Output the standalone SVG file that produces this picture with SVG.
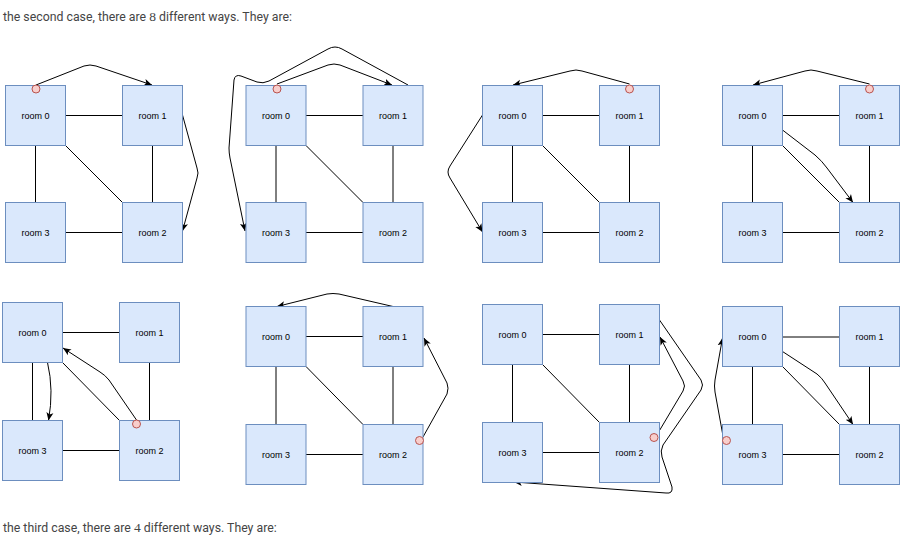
<svg xmlns="http://www.w3.org/2000/svg" width="913" height="544" viewBox="0 0 913 544">
<defs>
<marker id="ah" markerWidth="9" markerHeight="8" refX="8" refY="4" orient="auto" markerUnits="userSpaceOnUse">
<path d="M0,0.5 L8,4 L0,7.5 L2,4 Z" fill="#000"/>
</marker>
<style>
.room rect{fill:#dae8fc;stroke:#6c8ebf;stroke-width:1}
.room text{font-family:"Liberation Sans",Arial,sans-serif;font-size:9px;fill:#000;text-anchor:middle}
.edge{stroke:#000;stroke-width:1;fill:none}
.arrow{stroke:#000;stroke-width:1;fill:none;marker-end:url(#ah)}
.start{fill:#f8cecc;stroke:#b85450;stroke-width:1}
.caption{font-family:Roboto,"Liberation Sans",sans-serif;font-size:12.3px;fill:#444}
.num{font-family:"Liberation Serif",serif;font-size:13.5px}
</style>
</defs>
<rect width="913" height="544" fill="#fff"/>
<text class="caption" x="3" y="21">the second case, there are <tspan class="num">8</tspan> different ways. They are:</text>
<text class="caption" x="3" y="532">the third case, there are <tspan class="num">4</tspan> different ways. They are:</text>

<!-- Panel 1 -->
<g id="p1">
<g class="edges">
<line class="edge" x1="65.5" y1="115.5" x2="122.5" y2="115.5"/>
<line class="edge" x1="65.5" y1="232.5" x2="122.5" y2="232.5"/>
<line class="edge" x1="35.5" y1="145.5" x2="35.5" y2="202.5"/>
<line class="edge" x1="152.5" y1="145.5" x2="152.5" y2="202.5"/>
<line class="edge" x1="65.5" y1="145.5" x2="122.5" y2="202.5"/>
<path class="arrow" d="M36,85 L84,66 Q90,64 96,66 L152,85"/>
<path class="arrow" d="M182.5,115 L197,168 Q199,173 197,178 L182.5,231"/>
</g>
<g id="p1-room0" class="room"><rect x="5.5" y="85.5" width="60" height="60"/><text x="35.5" y="118.5">room 0</text></g>
<g id="p1-room1" class="room"><rect x="122.5" y="85.5" width="60" height="60"/><text x="152.5" y="118.5">room 1</text></g>
<g id="p1-room3" class="room"><rect x="5.5" y="202.5" width="60" height="60"/><text x="35.5" y="235.5">room 3</text></g>
<g id="p1-room2" class="room"><rect x="122.5" y="202.5" width="60" height="60"/><text x="152.5" y="235.5">room 2</text></g>
<circle class="start" cx="36" cy="89" r="4"/>
</g>

<!-- Panel 2 -->
<g id="p2">
<g class="edges">
<line class="edge" x1="306" y1="115.5" x2="363" y2="115.5"/>
<line class="edge" x1="306" y1="232.5" x2="363" y2="232.5"/>
<line class="edge" x1="276" y1="145.5" x2="276" y2="202.5"/>
<line class="edge" x1="393" y1="145.5" x2="393" y2="202.5"/>
<line class="edge" x1="306" y1="145.5" x2="363" y2="202.5"/>
<path class="arrow" d="M277,84 L328,65 Q334,63 340,65 L392,85"/>
<path class="arrow" d="M408,85 L342,49 Q335,45 328,49 L269,81 Q263,84 257,82 L241,76 Q235,74 234,80 L229,148 Q229,153 230,158 L245,231"/>
</g>
<g id="p2-room0" class="room"><rect x="246" y="85.5" width="60" height="60"/><text x="276" y="118.5">room 0</text></g>
<g id="p2-room1" class="room"><rect x="363" y="85.5" width="60" height="60"/><text x="393" y="118.5">room 1</text></g>
<g id="p2-room3" class="room"><rect x="246" y="202.5" width="60" height="60"/><text x="276" y="235.5">room 3</text></g>
<g id="p2-room2" class="room"><rect x="363" y="202.5" width="60" height="60"/><text x="393" y="235.5">room 2</text></g>
<circle class="start" cx="277" cy="89" r="4"/>
</g>

<!-- Panel 3 -->
<g id="p3">
<g class="edges">
<line class="edge" x1="542.5" y1="115.5" x2="599.5" y2="115.5"/>
<line class="edge" x1="542.5" y1="232.5" x2="599.5" y2="232.5"/>
<line class="edge" x1="512.5" y1="145.5" x2="512.5" y2="202.5"/>
<line class="edge" x1="629.5" y1="145.5" x2="629.5" y2="202.5"/>
<line class="edge" x1="542.5" y1="145.5" x2="599.5" y2="202.5"/>
<path class="arrow" d="M629.5,84 L582,71 Q576,69 570,71 L513,85"/>
<path class="arrow" d="M482.5,115 L450,166 Q446,172 450,178 L482.5,232"/>
</g>
<g id="p3-room0" class="room"><rect x="482.5" y="85.5" width="60" height="60"/><text x="512.5" y="118.5">room 0</text></g>
<g id="p3-room1" class="room"><rect x="599.5" y="85.5" width="60" height="60"/><text x="629.5" y="118.5">room 1</text></g>
<g id="p3-room3" class="room"><rect x="482.5" y="202.5" width="60" height="60"/><text x="512.5" y="235.5">room 3</text></g>
<g id="p3-room2" class="room"><rect x="599.5" y="202.5" width="60" height="60"/><text x="629.5" y="235.5">room 2</text></g>
<circle class="start" cx="629.5" cy="89" r="4"/>
</g>

<!-- Panel 4 -->
<g id="p4">
<g class="edges">
<line class="edge" x1="782.5" y1="115.5" x2="839.5" y2="115.5"/>
<line class="edge" x1="782.5" y1="232.5" x2="839.5" y2="232.5"/>
<line class="edge" x1="752.5" y1="145.5" x2="752.5" y2="202.5"/>
<line class="edge" x1="869.5" y1="145.5" x2="869.5" y2="202.5"/>
<line class="edge" x1="782.5" y1="145.5" x2="839.5" y2="202.5"/>
<path class="arrow" d="M869.5,84 L817,71 Q811,69 805,71 L753,85"/>
<path class="arrow" d="M782.5,130 L815,155 Q822,161 827,168 L853,202.5"/>
</g>
<g id="p4-room0" class="room"><rect x="722.5" y="85.5" width="60" height="60"/><text x="752.5" y="118.5">room 0</text></g>
<g id="p4-room1" class="room"><rect x="839.5" y="85.5" width="60" height="60"/><text x="869.5" y="118.5">room 1</text></g>
<g id="p4-room3" class="room"><rect x="722.5" y="202.5" width="60" height="60"/><text x="752.5" y="235.5">room 3</text></g>
<g id="p4-room2" class="room"><rect x="839.5" y="202.5" width="60" height="60"/><text x="869.5" y="235.5">room 2</text></g>
<circle class="start" cx="869.5" cy="89" r="4"/>
</g>

<!-- Panel 5 -->
<g id="p5">
<g class="edges">
<line class="edge" x1="62.5" y1="332.5" x2="119.5" y2="332.5"/>
<line class="edge" x1="62.5" y1="450.5" x2="119.5" y2="450.5"/>
<line class="edge" x1="32.5" y1="362.5" x2="32.5" y2="420.5"/>
<line class="edge" x1="149.5" y1="362.5" x2="149.5" y2="420.5"/>
<line class="edge" x1="62.5" y1="362.5" x2="119.5" y2="420.5"/>
<path class="arrow" d="M136.5,420 L109,380 Q105,375 100,372 L63,348"/>
<path class="arrow" d="M47.5,362.5 Q54,390 48.5,420.5"/>
</g>
<g id="p5-room0" class="room"><rect x="2.5" y="302.5" width="60" height="60"/><text x="32.5" y="335.5">room 0</text></g>
<g id="p5-room1" class="room"><rect x="119.5" y="302.5" width="60" height="60"/><text x="149.5" y="335.5">room 1</text></g>
<g id="p5-room3" class="room"><rect x="2.5" y="420.5" width="60" height="60"/><text x="32.5" y="453.5">room 3</text></g>
<g id="p5-room2" class="room"><rect x="119.5" y="420.5" width="60" height="60"/><text x="149.5" y="453.5">room 2</text></g>
<circle class="start" cx="136.5" cy="424" r="4"/>
</g>

<!-- Panel 6 -->
<g id="p6">
<g class="edges">
<line class="edge" x1="306" y1="336.5" x2="363" y2="336.5"/>
<line class="edge" x1="306" y1="454.5" x2="363" y2="454.5"/>
<line class="edge" x1="276" y1="366.5" x2="276" y2="424.5"/>
<line class="edge" x1="393" y1="366.5" x2="393" y2="424.5"/>
<line class="edge" x1="306" y1="366.5" x2="363" y2="424.5"/>
<path class="arrow" d="M423,437 L447,394 Q449,388 447,383 L424,338"/>
<path class="arrow" d="M393,306.5 L339,294 Q333,293 327,294 L277,306.5"/>
</g>
<g id="p6-room0" class="room"><rect x="246" y="306.5" width="60" height="60"/><text x="276" y="339.5">room 0</text></g>
<g id="p6-room1" class="room"><rect x="363" y="306.5" width="60" height="60"/><text x="393" y="339.5">room 1</text></g>
<g id="p6-room3" class="room"><rect x="246" y="424.5" width="60" height="60"/><text x="276" y="457.5">room 3</text></g>
<g id="p6-room2" class="room"><rect x="363" y="424.5" width="60" height="60"/><text x="393" y="457.5">room 2</text></g>
<circle class="start" cx="419.5" cy="440.5" r="4"/>
</g>

<!-- Panel 7 -->
<g id="p7">
<g class="edges">
<line class="edge" x1="542.5" y1="334.5" x2="599.5" y2="334.5"/>
<line class="edge" x1="542.5" y1="452.5" x2="599.5" y2="452.5"/>
<line class="edge" x1="512.5" y1="364.5" x2="512.5" y2="422.5"/>
<line class="edge" x1="629.5" y1="364.5" x2="629.5" y2="422.5"/>
<line class="edge" x1="542.5" y1="364.5" x2="599.5" y2="422.5"/>
<path class="arrow" d="M658,433 L683,391 Q686,386 683,381 L660,337"/>
<path class="arrow" d="M659.5,320 L701,380 Q704,385 701,390 L663,445 Q660,451 662,457 L672,487 Q673,494 666,493 L514,482"/>
</g>
<g id="p7-room0" class="room"><rect x="482.5" y="304.5" width="60" height="60"/><text x="512.5" y="337.5">room 0</text></g>
<g id="p7-room1" class="room"><rect x="599.5" y="304.5" width="60" height="60"/><text x="629.5" y="337.5">room 1</text></g>
<g id="p7-room3" class="room"><rect x="482.5" y="422.5" width="60" height="60"/><text x="512.5" y="455.5">room 3</text></g>
<g id="p7-room2" class="room"><rect x="599.5" y="422.5" width="60" height="60"/><text x="629.5" y="455.5">room 2</text></g>
<circle class="start" cx="654" cy="437.5" r="4"/>
</g>

<!-- Panel 8 -->
<g id="p8">
<g class="edges">
<line class="edge" x1="782.5" y1="337" x2="839.5" y2="337" stroke="#888"/>
<line class="edge" x1="782.5" y1="454.5" x2="839.5" y2="454.5"/>
<line class="edge" x1="752.5" y1="366.5" x2="752.5" y2="424.5"/>
<line class="edge" x1="869.5" y1="366.5" x2="869.5" y2="424.5"/>
<line class="edge" x1="782.5" y1="366.5" x2="839.5" y2="424.5"/>
<path class="arrow" d="M723,436 L715,392 Q714,386 715,380 L722.5,338"/>
<path class="arrow" d="M782.5,351.5 L817,374 Q822,378 825,383 L853,424.5"/>
</g>
<g id="p8-room0" class="room"><rect x="722.5" y="306.5" width="60" height="60"/><text x="752.5" y="339.5">room 0</text></g>
<g id="p8-room1" class="room"><rect x="839.5" y="306.5" width="60" height="60"/><text x="869.5" y="339.5">room 1</text></g>
<g id="p8-room3" class="room"><rect x="722.5" y="424.5" width="60" height="60"/><text x="752.5" y="457.5">room 3</text></g>
<g id="p8-room2" class="room"><rect x="839.5" y="424.5" width="60" height="60"/><text x="869.5" y="457.5">room 2</text></g>
<circle class="start" cx="726.5" cy="440.5" r="4"/>
</g>
</svg>
